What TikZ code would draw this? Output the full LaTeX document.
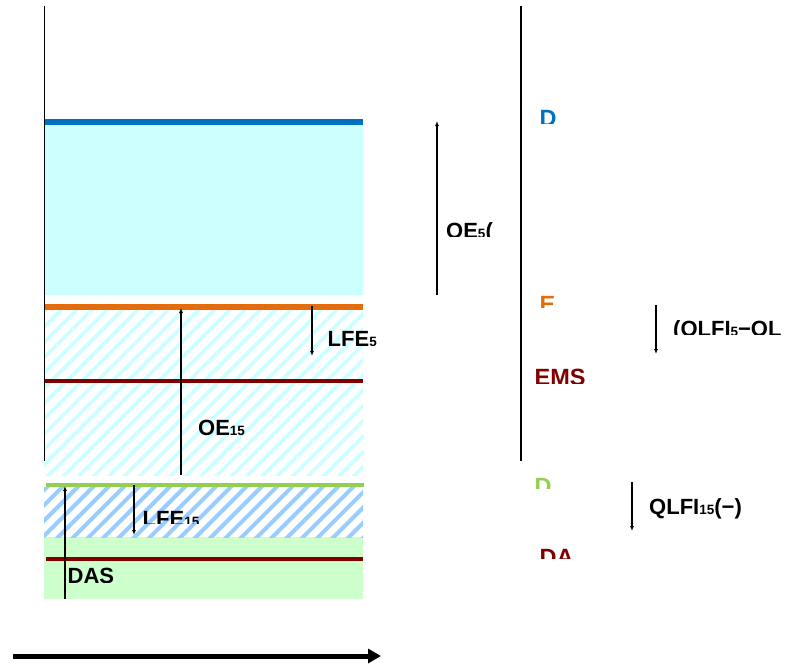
\documentclass[tikz,border=0pt]{standalone}
\usepackage{fontspec}
\setmainfont{Liberation Sans}
\usetikzlibrary{arrows.meta}
\definecolor{cyanfill}{HTML}{CCFFFF}
\definecolor{greenfill}{HTML}{CCFFCC}
\definecolor{bluehatch}{HTML}{99CCFF}
\definecolor{blueline}{HTML}{0070C0}
\definecolor{orangeline}{HTML}{E46C0A}
\definecolor{darkredline}{HTML}{800000}
\definecolor{greenline}{HTML}{92D050}
\newcommand{\sbs}[1]{{\fontsize{13.5}{13.5}\selectfont\raisebox{-0.5pt}{#1}}}
\tikzset{
  lab/.style={anchor=base west, inner sep=0pt, font=\bfseries\fontsize{22}{24}\selectfont},
  clab/.style={anchor=base west, inner sep=0pt, font=\bfseries\fontsize{23.5}{26}\selectfont},
  level/.style={line width=#1},
  axisline/.style={line width=1.5pt, black},
  dimarrow/.style={line width=1.2pt, -{Latex[length=5pt,width=4pt]}},
  bigarrow/.style={line width=5pt, -{Triangle[length=13pt,width=14pt]}},
}
\begin{document}
\begin{tikzpicture}[x=1pt,y=-1pt]
\useasboundingbox (0,0) rectangle (786,664);
% fills
\fill[cyanfill] (44,122) rectangle (363,295);
\fill[greenfill] (44,537) rectangle (363,599);
% top hatch
\begin{scope}
  \clip (44,310) rectangle (363,475);
  \foreach \i in {-12,...,24} {
    \draw[cyanfill, line width=3.6pt] (44+\i*15.3,480) -- ++(190,-190);
  }
\end{scope}
% bottom hatch
\begin{scope}
  \clip (44,487) rectangle (363,537);
  \foreach \i in {-5,...,24} {
    \draw[bluehatch, line width=4pt] (40+\i*15.3,540) -- ++(60,-60);
  }
\end{scope}
% level lines
\draw[blueline, level=6pt] (44,122) -- (363,122);
\draw[orangeline, level=6pt] (44,307) -- (363,307);
\draw[darkredline, level=4pt] (44,381) -- (363,381);
\draw[greenline, level=4pt] (46,484.5) -- (364,484.5);
\draw[darkredline, level=4pt] (46,559) -- (363,559);
% axes
\coordinate (la1) at (44.5,6);
\coordinate (la2) at (44.5,461);
\coordinate (ra1) at (521,6);
\coordinate (ra2) at (521,461);
\draw[axisline] (la1) -- (la2);
\draw[axisline] (ra1) -- (ra2);
% dimension arrows
\coordinate (oe15a) at (181,475);  \coordinate (oe15b) at (181,308);
\coordinate (lfe5a) at (312,306);  \coordinate (lfe5b) at (312,356);
\coordinate (dasa) at (65,599);    \coordinate (dasb) at (65,486);
\coordinate (lfe15a) at (134,485); \coordinate (lfe15b) at (134,535);
\coordinate (oe5a) at (437,295);   \coordinate (oe5b) at (437,121);
\coordinate (q5a) at (656,305);    \coordinate (q5b) at (656,354);
\coordinate (q15a) at (632,482);   \coordinate (q15b) at (632,531);
\coordinate (ba) at (13,656);      \coordinate (bb) at (381,656);
\draw[dimarrow] (oe15a) -- (oe15b);
\draw[dimarrow] (lfe5a) -- (lfe5b);
\draw[dimarrow] (dasa) -- (dasb);
\draw[dimarrow] (lfe15a) -- (lfe15b);
\draw[dimarrow] (oe5a) -- (oe5b);
\draw[dimarrow] (q5a) -- (q5b);
\draw[dimarrow] (q15a) -- (q15b);
\draw[bigarrow] (ba) -- (bb);
% labels
\node[lab] (tlfe5) at (327.5,346) {LFE\sbs{5}};
\node[lab] (toe15) at (198,435) {OE\sbs{15}};
\node[lab] (tq15) at (649,514) {QLFI\sbs{15}(−)};
\begin{scope}
  \clip (440,200) rectangle (496,236);
  \node[lab] (toe5) at (446,238) {OE\sbs{5}(};
\end{scope}
\begin{scope}
  \clip (530,100) rectangle (570,123);
  \node[clab, text=blueline] (td1) at (539.5,126) {D};
\end{scope}
\begin{scope}
  \clip (530,285) rectangle (570,307);
  \node[clab, text=orangeline] (te) at (539.5,312) {E};
\end{scope}
\begin{scope}
  \clip (665,310) rectangle (786,334.5);
  \node[lab] (tq5) at (673,336) {(QLFI\sbs{5}−QL};
\end{scope}
\begin{scope}
  \clip (525,360) rectangle (600,383);
  \node[clab, text=darkredline] (tems) at (534.5,385) {EMS};
\end{scope}
\begin{scope}
  \clip (525,470) rectangle (570,488);
  \node[clab, text=greenline] (td2) at (534.5,494) {D};
\end{scope}
\begin{scope}
  \clip (530,540) rectangle (590,558);
  \node[clab, text=darkredline] (tda) at (539.5,565) {DA};
\end{scope}
\begin{scope}
  \clip (135,500) rectangle (220,523);
  \node[lab] (tlfe15) at (142.5,526) {LFE\sbs{15}};
\end{scope}
\begin{scope}
  \clip (60,560) rectangle (130,582);
  \node[lab] (tdas) at (67.5,583) {DAS};
\end{scope}
\end{tikzpicture}
\end{document}
